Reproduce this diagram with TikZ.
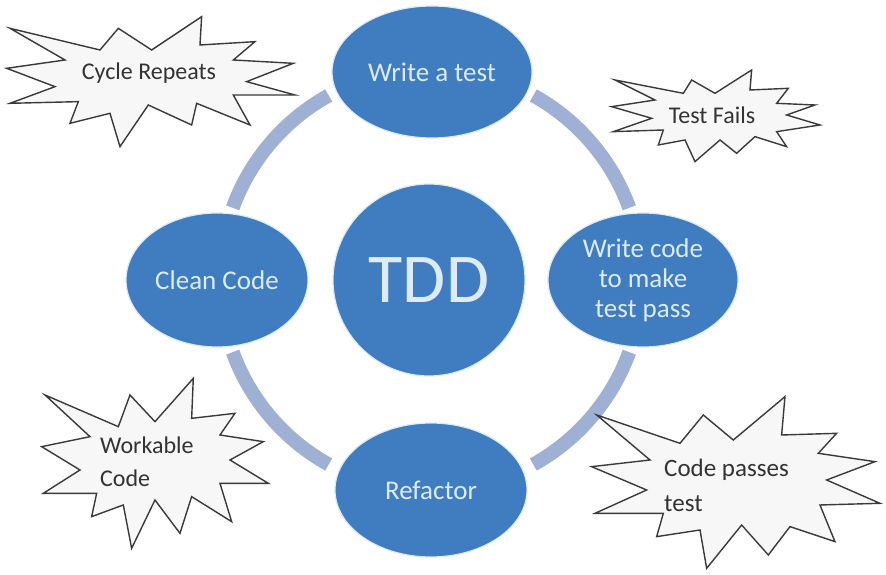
\documentclass[tikz,border=0pt]{standalone}
\usepackage{fontspec}
\setmainfont{Carlito}
\usetikzlibrary{shapes.geometric}
\definecolor{ringc}{HTML}{9EB1D5}
\definecolor{ellfill}{HTML}{3F7DC0}
\definecolor{elltext}{HTML}{DDEBF7}
\definecolor{burstfill}{HTML}{F7F7F7}
\definecolor{burstline}{HTML}{3A3A3A}
\definecolor{bursttext}{HTML}{333333}
\tikzset{
  stage/.style={ellipse, fill=ellfill, draw=elltext, line width=1.2pt, inner sep=0pt,
    text=elltext, font=\fontsize{27}{30}\selectfont, align=center},
  hub/.style={circle, fill=ellfill, draw=elltext, line width=1.2pt, inner sep=0pt,
    minimum size=192pt, text=elltext, font=\fontsize{70}{70}\selectfont},
  ringarc/.style={draw=ringc, line width=14pt},
  burst/.style={fill=burstfill, draw=burstline, line width=1.4pt, line join=miter},
  bursttxt/.style={text=bursttext, font=\fontsize{24}{33}\selectfont, inner sep=0pt},
}
\begin{document}
\begin{tikzpicture}[x=1pt,y=1pt]
\useasboundingbox[fill=white] (0,0) rectangle (886,575);
% ring arcs
\coordinate (ringc) at (431,295);
\foreach \a/\b in {20/61, 119/160, 200/241, 299/340}{
  \draw[ringarc] ([shift={(\a:211)}]ringc) arc[start angle=\a, end angle=\b, radius=211];
}
% hub and stages
\node[hub] (tdd) at (429,295) {TDD};
\node[stage, minimum width=200pt, minimum height=132pt] (write) at (432,503) {Write a test};
\node[stage, minimum width=182pt, minimum height=134pt] (clean) at (217,295) {Clean Code};
\node[stage, minimum width=190pt, minimum height=134pt] (code) at (643,295) {Write code\\to make\\test pass};
\node[stage, minimum width=192pt, minimum height=134pt] (refac) at (431,85) {Refactor};
% bursts
\begin{scope}[shift={(0pt,575pt)}, x={(0.3333pt,0pt)}, y={(0pt,-0.3333pt)}]
\draw[burst] (30,85) -- (300,150) -- (355,85) -- (455,150) -- (605,50) -- (600,135) -- (765,125) -- (700,180) -- (880,190) -- (740,245) -- (885,285) -- (700,285) -- (750,375) -- (590,310) -- (575,375) -- (445,315) -- (360,440) -- (330,340) -- (210,370) -- (235,305) -- (30,310) -- (165,260) -- (20,205) -- (195,180) -- cycle;
\end{scope}
\begin{scope}[shift={(580pt,515pt)}, x={(0.3333pt,0pt)}, y={(0pt,-0.3333pt)}]
\draw[burst] (105,60) -- (310,100) -- (335,60) -- (405,100) -- (515,30) -- (510,90) -- (625,85) -- (590,130) -- (705,135) -- (620,165) -- (720,195) -- (590,215) -- (620,260) -- (525,230) -- (470,280) -- (420,240) -- (345,305) -- (315,240) -- (235,255) -- (250,210) -- (100,215) -- (215,175) -- (95,140) -- (225,120) -- cycle;
\end{scope}
\begin{scope}[shift={(0pt,215pt)}, x={(0.3333pt,0pt)}, y={(0pt,-0.3333pt)}]
\draw[burst] (135,105) -- (355,200) -- (390,105) -- (465,185) -- (580,55) -- (575,175) -- (705,160) -- (660,225) -- (790,245) -- (690,300) -- (805,370) -- (660,370) -- (695,485) -- (575,410) -- (540,520) -- (465,420) -- (395,565) -- (370,435) -- (275,470) -- (290,400) -- (130,400) -- (240,330) -- (125,260) -- (270,230) -- cycle;
\end{scope}
\begin{scope}[shift={(560pt,195pt)}, x={(0.3333pt,0pt)}, y={(0pt,-0.3333pt)}]
\draw[burst] (110,105) -- (360,190) -- (430,105) -- (520,180) -- (675,50) -- (665,165) -- (830,160) -- (775,220) -- (945,245) -- (800,300) -- (960,370) -- (780,375) -- (825,485) -- (690,440) -- (625,525) -- (545,435) -- (440,565) -- (420,450) -- (290,470) -- (310,400) -- (105,400) -- (260,330) -- (95,260) -- (270,240) -- cycle;
\end{scope}
% burst texts
\node[bursttxt] (cyc) at (149,502) {Cycle Repeats};
\node[bursttxt] (fail) at (712,460) {Test Fails};
\node[bursttxt, anchor=west, align=left] (work) at (100,113) {Workable\\Code};
\node[bursttxt, anchor=west, align=left, font=\fontsize{25}{35}\selectfont] (pass) at (664,90) {Code passes\\test};
\end{tikzpicture}
\end{document}
